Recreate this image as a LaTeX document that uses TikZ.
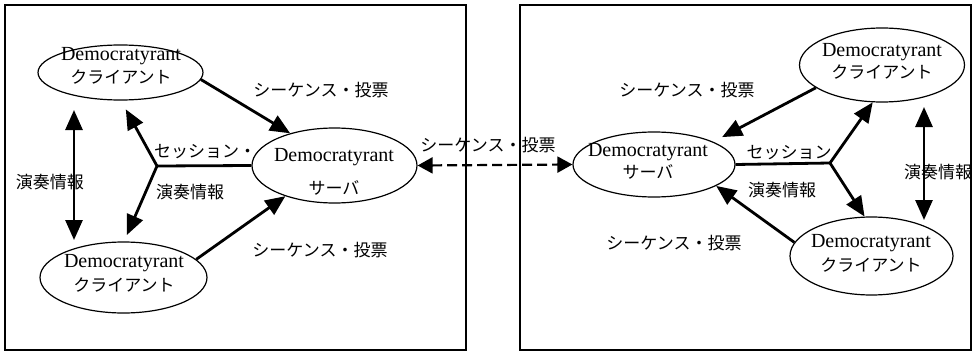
\documentclass[tikz,border=0pt]{standalone}
\usepackage{fontspec}
\setmainfont{Liberation Serif}
\newfontfamily\jp{Noto Sans CJK JP}
\usetikzlibrary{arrows.meta,shapes.geometric}
\begin{document}
\begin{tikzpicture}[x=1pt,y=-1pt,
  frame/.style={draw,line width=1.4pt,inner sep=0pt},
  ell/.style={draw,ellipse,line width=1.2pt,inner sep=0pt},
  lat/.style={font=\fontsize{20}{20}\selectfont,inner sep=0pt},
  jpn/.style={font=\jp\fontsize{17}{17}\selectfont,inner sep=0pt},
  arr/.style={line width=2.8pt,-{Triangle[length=20pt,width=17pt]}},
  darr/.style={line width=2.8pt,{Triangle[length=20pt,width=17pt]}-{Triangle[length=20pt,width=17pt]}},
  plainline/.style={line width=2.8pt},
  dashline/.style={line width=2.2pt,dash pattern=on 10pt off 5pt,{Triangle[length=15pt,width=16pt]}-{Triangle[length=15pt,width=16pt]}}
]
\useasboundingbox (0,0) rectangle (975,353);
\fill[white] (0,0) rectangle (975,353);

% frames
\node[frame,minimum width=461pt,minimum height=345pt] (boxL) at (235.5,177.5) {};
\node[frame,minimum width=451pt,minimum height=345pt] (boxR) at (745.5,177.5) {};

% left ellipses
\node[ell,minimum width=165pt,minimum height=55pt] (lc1) at (120.5,72.5) {};
\node[ell,minimum width=167pt,minimum height=71pt] (lc2) at (123.5,277.5) {};
\node[ell,minimum width=165pt,minimum height=75pt] (ls) at (334.5,165.5) {};
% right ellipses
\node[ell,minimum width=165pt,minimum height=74pt] (rt) at (882,65) {};
\node[ell,minimum width=163pt,minimum height=78pt] (rb) at (871.5,256) {};
\node[ell,minimum width=162pt,minimum height=65pt] (rs) at (654,164.5) {};

% ellipse texts
\node[lat] (lc1a) at (121,56) {Democratyrant};
\node[jpn] (lc1b) at (121,77) {クライアント};
\node[lat] (lc2a) at (124,263) {Democratyrant};
\node[jpn] (lc2b) at (124,285) {クライアント};
\node[lat] (lsa) at (334,157) {Democratyrant};
\node[jpn] (lsb) at (334,188) {サーバ};
\node[lat] (rta) at (882,52) {Democratyrant};
\node[jpn] (rtb) at (882,72) {クライアント};
\node[lat] (rba) at (871,243) {Democratyrant};
\node[jpn] (rbb) at (871,265) {クライアント};
\node[lat] (rsa) at (648,152) {Democratyrant};
\node[jpn] (rsb) at (648,172) {サーバ};

% labels
\node[jpn] (t1) at (321,90) {シーケンス・投票};
\node[jpn] (t2) at (320,250) {シーケンス・投票};
\node[jpn] (t3) at (205,152) {セッション・};
\node[jpn] (t4) at (190,192) {演奏情報};
\node[jpn] (t5) at (50,182) {演奏情報};
\node[jpn] (t6) at (488,145) {シーケンス・投票};
\node[jpn] (t7) at (687,90) {シーケンス・投票};
\node[jpn] (t8) at (674,243) {シーケンス・投票};
\node[jpn] (t9) at (789,153) {セッション};
\node[jpn] (t10) at (782,190) {演奏情報};
\node[jpn] (t11) at (938,172) {演奏情報};

% left connectors
\coordinate (J) at (157,166);
\draw[arr] (lc1.-5) -- (ls.144);
\draw[arr] (lc2.14) -- (ls.212);
\draw[plainline] (ls.180) -- (J);
\draw[arr,shorten >=10pt] (J) -- (lc1.-89);
\draw[arr,shorten >=7pt] (J) -- (lc2.89);
\coordinate (v1a) at (74,110);
\coordinate (v1b) at (74,240);
\draw[darr] (v1a) -- (v1b);

% dashed link
\draw[dashline] (ls.0) -- (rs.180);

% right connectors
\coordinate (J2) at (830,163);
\draw[arr,shorten >=10pt] (rt.199) -- (rs.21);
\draw[arr] (rb.170) -- (rs.-19);
\draw[plainline] (rs.0) -- (J2);
\draw[arr] (J2) -- (rt.-104);
\draw[arr] (J2) -- (rb.100);
\coordinate (v2a) at (924,107);
\coordinate (v2b) at (924,220);
\draw[darr] (v2a) -- (v2b);
\end{tikzpicture}
\end{document}
